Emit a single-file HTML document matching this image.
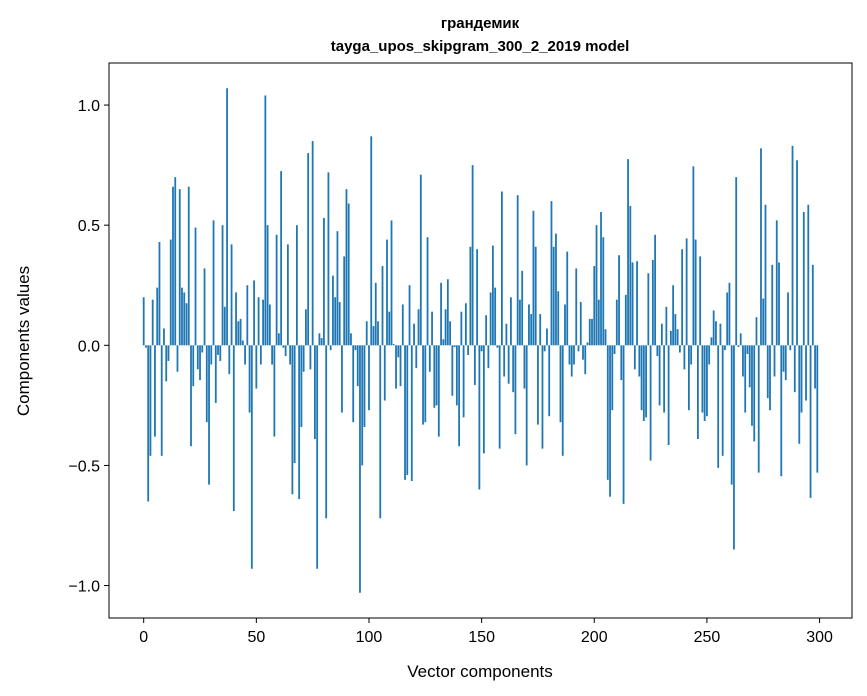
<!DOCTYPE html>
<html><head><meta charset="utf-8"><style>
body{margin:0;background:#fff;}
svg{display:block;font-family:"Liberation Sans","DejaVu Sans",sans-serif;}
</style></head><body>
<svg id="chart" width="867" height="696" viewBox="0 0 867 696">
<text x="480" y="28" text-anchor="middle" font-size="15" font-weight="bold">грандемик</text>
<text x="480" y="51" text-anchor="middle" font-size="15" font-weight="bold">tayga_upos_skipgram_300_2_2019 model</text>
<g id="bars"></g>
<rect x="109" y="63" width="743" height="555" fill="none" stroke="#000" stroke-width="1"/>
<g id="xt"></g>
<g id="yt"></g>
<text x="480" y="677" text-anchor="middle" font-size="17">Vector components</text>
<text transform="translate(29,341) rotate(-90)" text-anchor="middle" font-size="17">Components values</text>
</svg>
<script>
const values=[0.20,-0.01,-0.65,-0.46,0.19,-0.38,0.24,0.43,-0.46,0.07,-0.15,-0.065,0.44,0.66,0.70,-0.11,0.65,0.24,0.22,0.175,
0.66,-0.42,-0.17,0.49,-0.10,-0.145,-0.03,0.32,-0.32,-0.58,-0.08,0.52,-0.24,-0.04,-0.065,0.50,0.16,1.07,-0.12,0.42,
-0.69,0.22,0.10,0.11,0.02,-0.08,0.25,-0.28,-0.93,0.27,-0.18,0.20,-0.08,0.19,1.04,0.50,0.17,-0.08,-0.38,0.46,
0.05,0.725,-0.01,-0.045,0.42,-0.08,-0.62,-0.49,0.50,-0.64,-0.34,-0.11,0.15,0.80,-0.10,0.85,-0.39,-0.93,0.05,0.03,
0.53,-0.72,0.72,-0.02,0.29,0.20,0.475,0.18,-0.28,0.37,0.65,0.59,0.05,-0.32,-0.02,-0.17,-1.03,-0.50,-0.34,0.10,
-0.27,0.87,0.08,0.26,0.10,-0.72,0.33,-0.23,0.44,0.14,0.52,0.005,-0.18,-0.05,-0.17,0.17,-0.56,-0.54,0.25,-0.565,
0.09,-0.095,0.15,0.71,-0.33,-0.32,0.45,-0.11,0.14,-0.26,-0.25,-0.38,0.26,0.025,0.15,0.275,0.10,-0.21,-0.007,-0.25,
-0.42,0.14,-0.30,0.175,-0.04,0.41,0.75,-0.165,0.40,-0.60,-0.025,-0.45,0.125,-0.095,0.22,0.415,0.24,-0.01,-0.43,0.64,
-0.13,0.09,-0.16,0.20,-0.195,-0.37,0.625,0.19,0.31,-0.18,-0.50,0.17,0.13,0.56,0.41,-0.33,0.13,-0.43,-0.025,0.07,
-0.295,0.60,0.41,0.465,0.225,-0.32,-0.46,0.17,0.39,-0.08,-0.13,-0.08,0.32,-0.025,0.18,-0.06,-0.12,0.012,0.11,0.11,
0.33,0.50,0.19,0.555,0.45,0.067,-0.56,-0.63,-0.27,-0.036,0.19,0.375,-0.145,-0.66,0.21,0.775,0.58,0.345,-0.10,0.35,
-0.13,-0.27,-0.315,-0.30,0.30,-0.48,0.355,0.46,-0.045,-0.25,0.09,-0.28,0.16,-0.415,0.06,0.25,0.13,0.067,-0.03,0.40,
-0.10,0.445,-0.27,-0.08,0.745,0.44,-0.39,0.37,-0.28,-0.315,-0.295,-0.08,0.033,0.145,0.10,-0.51,0.09,-0.46,-0.02,0.22,
0.26,-0.58,-0.85,0.70,-0.007,0.05,-0.13,-0.28,-0.036,-0.175,-0.335,-0.40,0.117,-0.53,0.82,0.195,0.585,-0.22,-0.27,0.335,
-0.13,0.52,0.345,-0.545,-0.11,-0.145,0.22,-0.02,0.83,-0.195,0.77,-0.41,-0.28,0.555,-0.23,0.585,-0.635,0.335,-0.18,-0.53];
const xTicks=[0,50,100,150,200,250,300];
const yTicks=[1.0,0.5,0.0,-0.5,-1.0];
const yTickLabels=["1.0","0.5","0.0","\u22120.5","\u22121.0"];

const NS="http://www.w3.org/2000/svg";
const X0=109,X1=852,Y0=63,Y1=618;
const xmin=-15.4,xmax=314.4,ymin=-1.135,ymax=1.175;
const sx=v=>X0+(v-xmin)/(xmax-xmin)*(X1-X0);
const sy=v=>Y1-(v-ymin)/(ymax-ymin)*(Y1-Y0);
const bars=document.getElementById('bars');
values.forEach((v,i)=>{
  const r=document.createElementNS(NS,'rect');
  const xa=sx(i-0.4),xb=sx(i+0.4);
  const ya=sy(Math.max(v,0)),yb=sy(Math.min(v,0));
  r.setAttribute('x',xa);r.setAttribute('width',xb-xa);
  r.setAttribute('y',ya);r.setAttribute('height',Math.max(yb-ya,0.3));
  r.setAttribute('fill','#1f77b4');
  
  
  bars.appendChild(r);
});
const xt=document.getElementById('xt');
xTicks.forEach(t=>{
  const x=sx(t);
  const l=document.createElementNS(NS,'line');
  l.setAttribute('x1',x);l.setAttribute('x2',x);l.setAttribute('y1',Y1);l.setAttribute('y2',Y1+5);
  l.setAttribute('stroke','#000');
  
  
  xt.appendChild(l);
  const tx=document.createElementNS(NS,'text');
  tx.setAttribute('x',x);tx.setAttribute('y',Y1+24);tx.setAttribute('text-anchor','middle');tx.setAttribute('font-size','16');
  tx.textContent=t;
  
  
  xt.appendChild(tx);
});
const yt=document.getElementById('yt');
yTicks.forEach((t,i)=>{
  const y=sy(t);
  const l=document.createElementNS(NS,'line');
  l.setAttribute('x1',X0-5);l.setAttribute('x2',X0);l.setAttribute('y1',y);l.setAttribute('y2',y);
  l.setAttribute('stroke','#000');
  
  
  yt.appendChild(l);
  const tx=document.createElementNS(NS,'text');
  tx.setAttribute('x',X0-9);tx.setAttribute('y',y+6);tx.setAttribute('text-anchor','end');tx.setAttribute('font-size','16');
  tx.textContent=yTickLabels[i];
  
  
  yt.appendChild(tx);
});
</script>
</body></html>
